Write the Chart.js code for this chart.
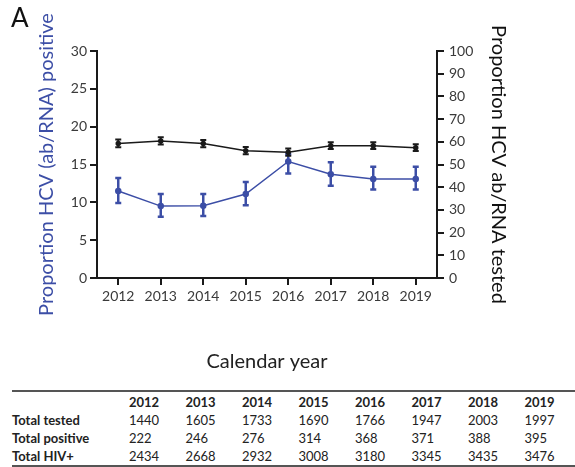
<!DOCTYPE html>
<html>
<head>
<meta charset="utf-8">
<script src="https://cdn.jsdelivr.net/npm/chart.js@4.4.0/dist/chart.umd.min.js"></script>
<style>
  body { margin: 0; background: #fff; font-family: Lato, sans-serif; }
  #wrap { position: relative; width: 575px; height: 467px; overflow: hidden; }
  #chart { position: absolute; left: 0; top: 0; }
  #panel { position: absolute; left: 11px; top: 1px; font-size: 26px; color: #111; }
  #tbl { position: absolute; left: 12px; top: 390px; border-collapse: collapse; table-layout: fixed;
         width: 569px; font-size: 13px; color: #222; border-top: 2px solid #555; border-bottom: 2px solid #555; }
  #tbl td { padding: 0; white-space: nowrap; line-height: 18px; height: 18px; }
  #tbl tr:first-child td { font-weight: bold; height: 19px; }
  #tbl td:first-child { font-weight: bold; }
</style>
</head>
<body>
<div id="wrap">
  <canvas id="chart" width="575" height="380"></canvas>
  <div id="panel">A</div>
  <table id="tbl"><colgroup id="cols"></colgroup><tbody id="tbody"></tbody></table>
</div>
<script>
// data
let years = ["2012", "2013", "2014", "2015", "2016", "2017", "2018", "2019"];

// % positive (left axis, blue) with error bars
let pctPositive = [11.5, 9.5, 9.55, 11.1, 15.4, 13.7, 13.1, 13.1];
let positiveLow = [9.9, 8.1, 8.2, 9.6, 13.8, 12.2, 11.7, 11.7];
let positiveHigh = [13.2, 11.1, 11.1, 12.7, 16.4, 15.3, 14.7, 14.7];

// % tested (right axis, black) with error bars
let pctTested = [59.3, 60.4, 59.2, 56.1, 55.4, 58.3, 58.3, 57.4];
let testedLow = [57.6, 58.8, 57.6, 54.5, 53.8, 56.8, 56.8, 55.9];
let testedHigh = [61.0, 62.0, 60.8, 57.7, 57.0, 59.8, 59.8, 58.9];

// table under the chart
let totalTested = [1440, 1605, 1733, 1690, 1766, 1947, 2003, 1997];
let totalPositive = [222, 246, 276, 314, 368, 371, 388, 395];
let totalHiv = [2434, 2668, 2932, 3008, 3180, 3345, 3435, 3476];

let blue = "#3c4ea6";
let black = "#1a1a1a";

// build table
let cols = document.getElementById("cols");
let c0 = document.createElement("col");
c0.style.width = "117px";
cols.appendChild(c0);
years.forEach(() => {
  let c = document.createElement("col");
  c.style.width = "56.5px";
  cols.appendChild(c);
});
let tbody = document.getElementById("tbody");
function addRow(label, vals) {
  let tr = document.createElement("tr");
  let td = document.createElement("td");
  td.textContent = label;
  tr.appendChild(td);
  vals.forEach(v => {
    let cell = document.createElement("td");
    cell.textContent = v;
    tr.appendChild(cell);
  });
  tbody.appendChild(tr);
}
addRow("", years);
addRow("Total tested", totalTested);
addRow("Total positive", totalPositive);
addRow("Total HIV+", totalHiv);

// error bars drawn per dataset through its own y scale
const errorBars = {
  id: "errorBars",
  afterDatasetDraw(chart, args) {
    let ds = chart.data.datasets[args.index];
    if (!ds.errLow) return;
    let yScale = chart.scales[ds.yAxisID];
    let ctx = chart.ctx;
    ctx.save();
    ctx.strokeStyle = ds.borderColor;
    ctx.lineWidth = ds.errWidth;
    args.meta.data.forEach((pt, i) => {
      let x = pt.x;
      let yl = yScale.getPixelForValue(ds.errLow[i]);
      let yh = yScale.getPixelForValue(ds.errHigh[i]);
      ctx.beginPath();
      ctx.moveTo(x, yl); ctx.lineTo(x, yh);
      ctx.moveTo(x - 3, yl); ctx.lineTo(x + 3, yl);
      ctx.moveTo(x - 3, yh); ctx.lineTo(x + 3, yh);
      ctx.stroke();
    });
    ctx.restore();
  }
};

Chart.defaults.font.family = "Lato, sans-serif";
Chart.defaults.color = "#333";

let axisGrid = { drawOnChartArea: false, tickLength: 7, color: black, lineWidth: 2 };

new Chart(document.getElementById("chart"), {
  type: "line",
  data: {
    labels: years,
    datasets: [
      {
        label: "tested",
        data: pctTested,
        errLow: testedLow,
        errHigh: testedHigh,
        errWidth: 2,
        yAxisID: "y1",
        borderColor: black,
        backgroundColor: black,
        borderWidth: 1.5,
        pointRadius: 2,
        tension: 0
      },
      {
        label: "positive",
        data: pctPositive,
        errLow: positiveLow,
        errHigh: positiveHigh,
        errWidth: 2.5,
        yAxisID: "y",
        borderColor: blue,
        backgroundColor: blue,
        borderWidth: 1.5,
        pointRadius: 2.5,
        tension: 0
      }
    ]
  },
  options: {
    responsive: false,
    animation: false,
    layout: { padding: { top: 51, left: 0, right: 0, bottom: 0 } },
    plugins: { legend: { display: false }, tooltip: { enabled: false } },
    scales: {
      x: {
        offset: true,
        grid: Object.assign({ offset: false }, axisGrid),
        border: { color: black, width: 2 },
        ticks: { font: { size: 14 }, color: "#3a3a3a", padding: 3, maxRotation: 0 },
        title: { display: true, text: "Calendar year", font: { size: 20 }, color: "#222", padding: { top: 0, bottom: 6 } },
        afterFit(s) { s.height = 102; }
      },
      y: {
        position: "left",
        min: 0, max: 30,
        ticks: { stepSize: 5, font: { size: 14 }, color: "#3a3a3a", padding: 3 },
        grid: axisGrid,
        border: { color: black, width: 2 },
        title: { display: true, text: "Proportion HCV (ab/RNA) positive", font: { size: 20 }, color: blue, padding: { top: 35, bottom: 0 } },
        afterFit(s) { s.width = 97; }
      },
      y1: {
        position: "right",
        min: 0, max: 100,
        ticks: { stepSize: 10, font: { size: 14 }, color: "#3a3a3a", padding: 5 },
        grid: axisGrid,
        border: { color: black, width: 2 },
        title: { display: true, text: "Proportion HCV ab/RNA tested", font: { size: 20 }, color: "#111", padding: { top: 65, bottom: 0 } },
        afterFit(s) { s.width = 138; }
      }
    }
  },
  plugins: [errorBars]
});
</script>
</body>
</html>
